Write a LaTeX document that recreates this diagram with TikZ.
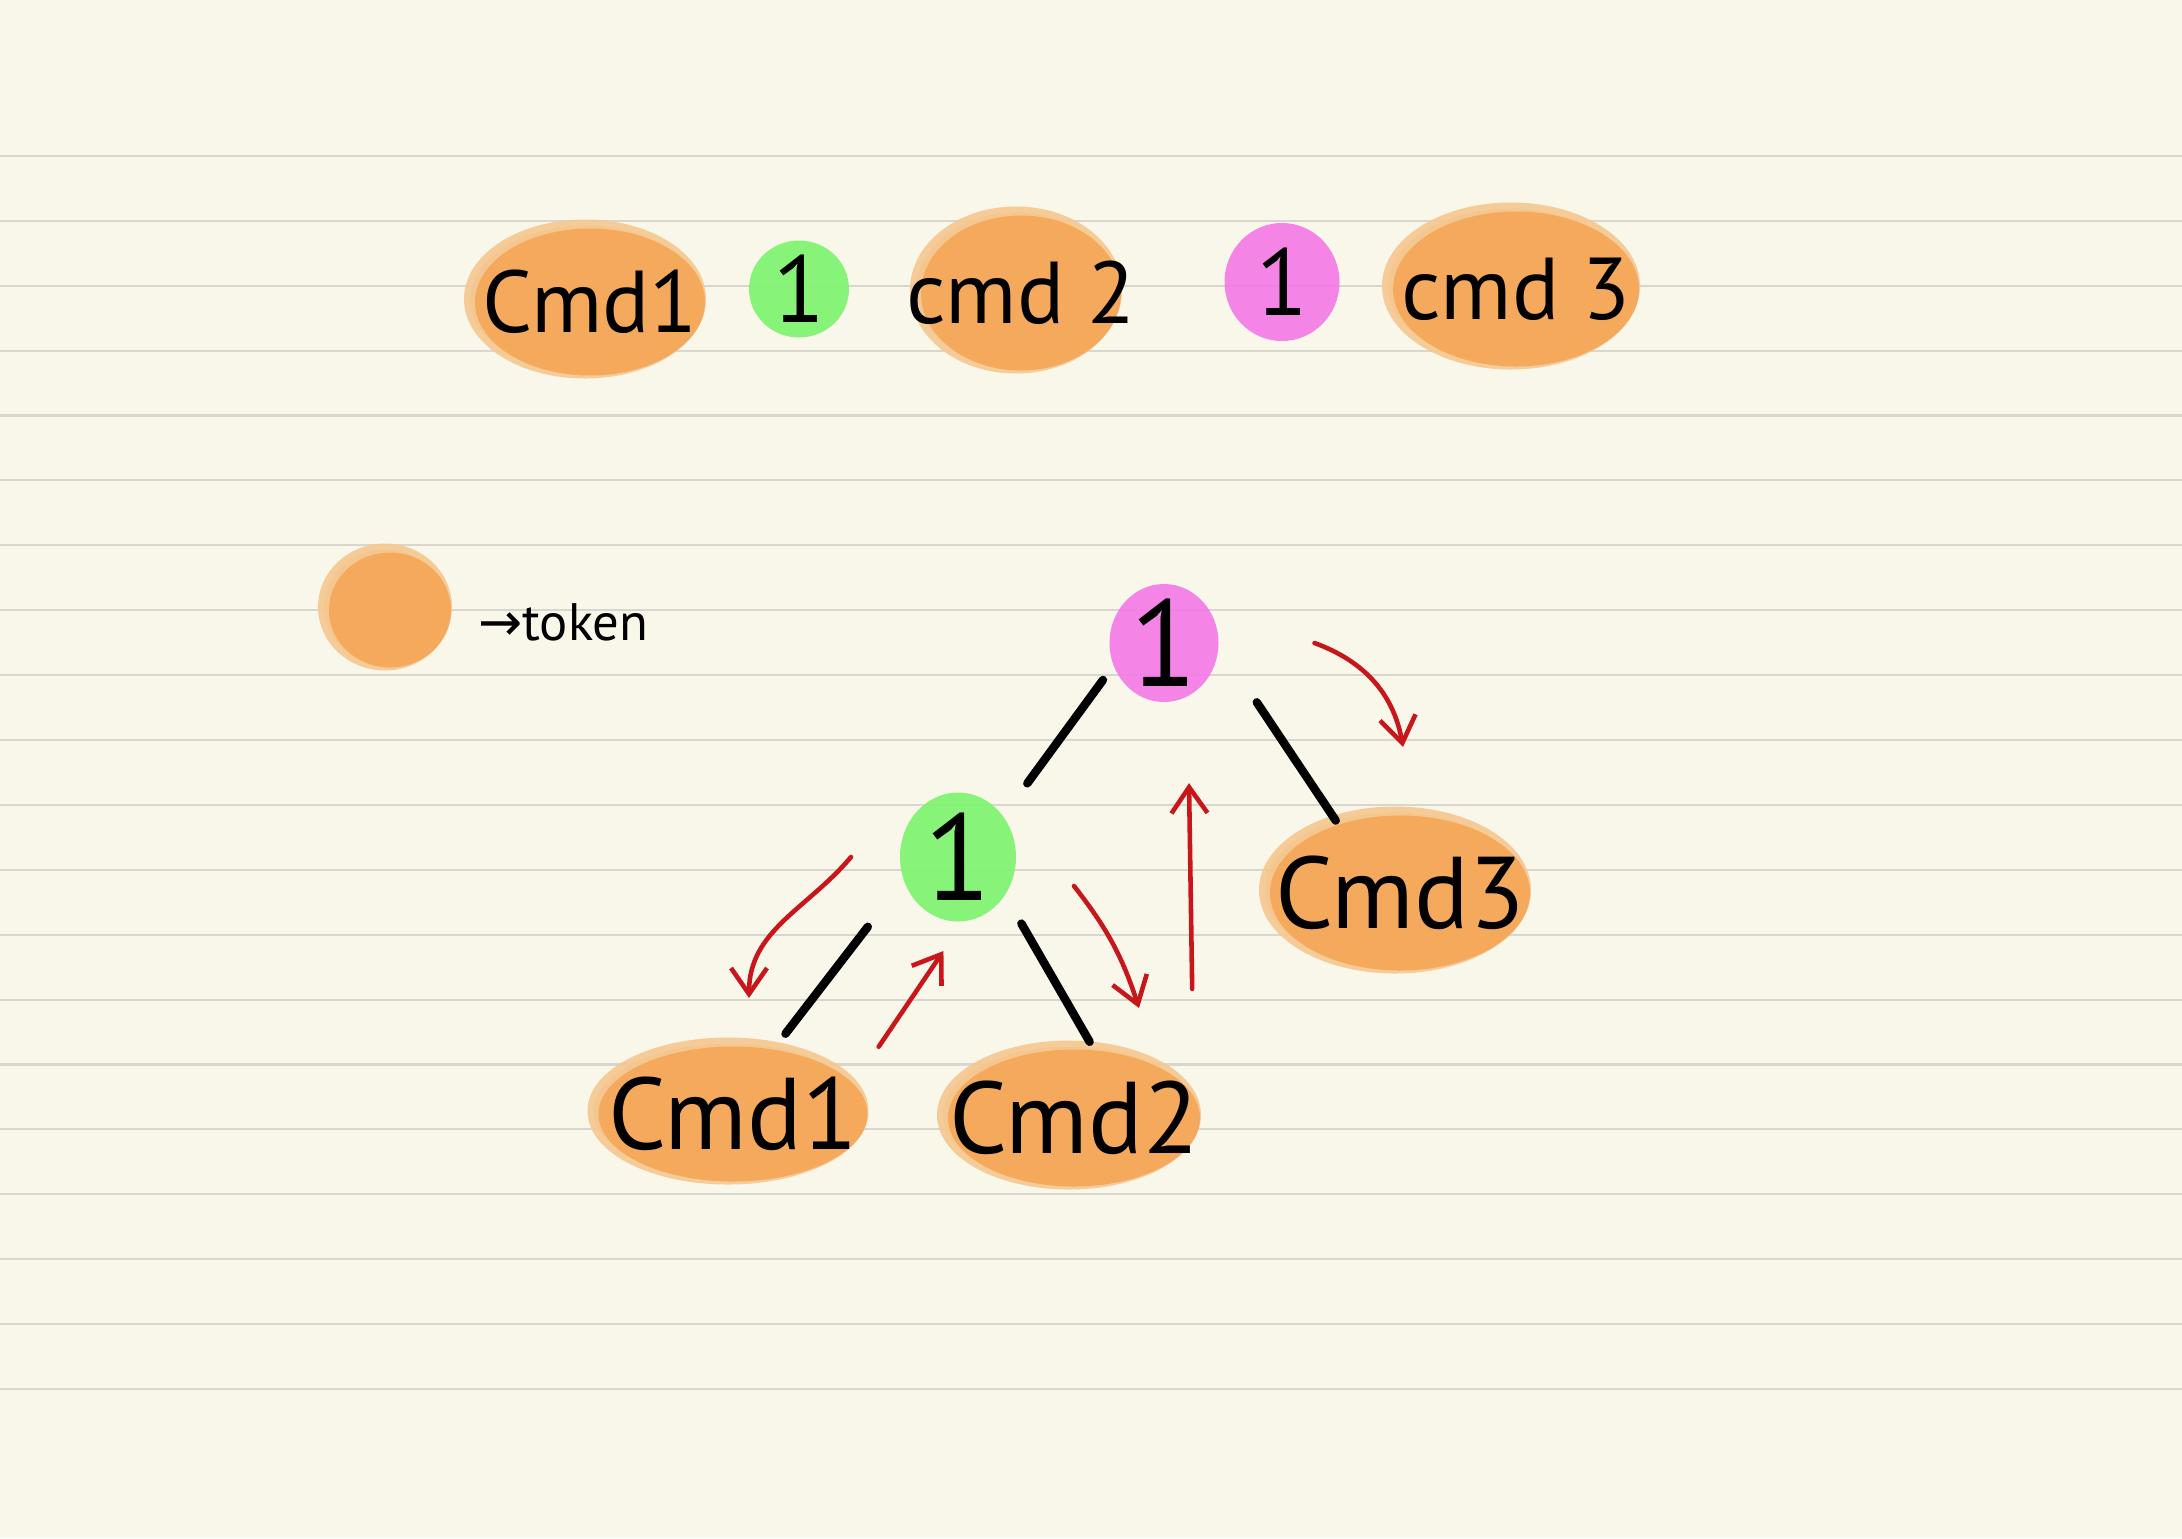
\documentclass[tikz,border=0pt]{standalone}
\usepackage{fontspec}
\setmainfont{PT Sans}
\newfontfamily\arrowfont{DejaVu Sans}
\usetikzlibrary{arrows.meta,shapes.geometric}
\definecolor{PaperCream}{HTML}{F9F7EA}
\definecolor{PaperRule}{HTML}{D8D6CE}
\definecolor{TokenOrange}{HTML}{F5A656}
\definecolor{TokenHalo}{HTML}{F5C790}
\definecolor{OpGreen}{HTML}{7EF470}
\definecolor{OpPink}{HTML}{F47BE6}
\definecolor{TrailRed}{HTML}{C8161B}

\begin{document}
\begin{tikzpicture}[
    token/.style={ellipse,fill=TokenOrange,fill opacity=0.9,inner sep=0pt,outer sep=0pt,
      preaction={fill=TokenHalo,draw=TokenHalo,fill opacity=0.9,draw opacity=0.9,line width=0.12cm,
        transform canvas={shift={(-0.05cm,0.03cm)}}}},
    opnode/.style={ellipse,fill opacity=0.92,inner sep=0pt,outer sep=0pt},
    handtext/.style={font=\fontsize{25}{30}\selectfont,text=black,text opacity=1},
    treetext/.style={font=\fontsize{29}{34}\selectfont,text=black,text opacity=1},
    smallone/.style={font=\fontsize{27}{32}\selectfont,text=black,text opacity=1},
    bigone/.style={font=\fontsize{35}{40}\selectfont,text=black,text opacity=1},
    edge/.style={line width=2.4pt,line cap=round,black},
    trail/.style={line width=1.3pt,line cap=round,TrailRed,-{Straight Barb[length=2.6mm,width=3.6mm]}},
    ruled/.style={PaperRule,line width=0.6pt}
  ]
  \fill[PaperCream] (0,0) rectangle (21.82,-15.38);
  \useasboundingbox (0,0) rectangle (21.82,-15.38);
  \foreach \k in {0,...,19}
    \draw[ruled] (0,{-1.559-0.649*\k}) -- (21.82,{-1.559-0.649*\k});

  % the command line, token by token
  \node[token,minimum width=2.3cm,minimum height=1.47cm,label={[handtext]center:Cmd1}] (incmd1) at (5.9,-3.02) {};
  \node[opnode,fill=OpGreen,minimum width=1.0cm,minimum height=0.97cm,label={[smallone]center:1}] (inop1) at (7.99,-2.89) {};
  \node[token,minimum width=2.0cm,minimum height=1.55cm,label={[handtext]center:cmd 2}] (incmd2) at (10.21,-2.93) {};
  \node[opnode,fill=OpPink,minimum width=1.15cm,minimum height=1.18cm,label={[smallone]center:1}] (inop2) at (12.82,-2.82) {};
  \node[token,minimum width=2.46cm,minimum height=1.55cm,label={[handtext]center:cmd 3}] (incmd3) at (15.16,-2.89) {};

  % key
  \node[token,minimum width=1.22cm,minimum height=1.15cm] (keyblob) at (3.9,-6.1) {};
  \node[anchor=west,font=\fontsize{15}{18}\selectfont] (keytext) at (4.66,-6.22) {{\arrowfont →}token};

  % the tree
  \node[opnode,fill=OpPink,minimum width=1.09cm,minimum height=1.18cm,label={[bigone]center:1}] (root) at (11.64,-6.43) {};
  \node[opnode,fill=OpGreen,minimum width=1.16cm,minimum height=1.29cm,label={[bigone]center:1}] (mid) at (9.58,-8.57) {};
  \node[token,minimum width=2.6cm,minimum height=1.55cm,label={[treetext]center:Cmd3}] (leaf3) at (14.0,-8.93) {};
  \node[token,minimum width=2.69cm,minimum height=1.35cm,label={[treetext]center:Cmd1}] (leaf1) at (7.33,-11.14) {};
  \node[token,minimum width=2.52cm,minimum height=1.37cm,label={[treetext]center:Cmd2}] (leaf2) at (10.74,-11.18) {};

  \draw[edge,shorten <=0.18cm,shorten >=0.41cm] (root.204) -- (mid.42);
  \draw[edge,shorten <=0.69cm,shorten >=0.05cm] (root.358) -- (leaf3.132);
  \draw[edge,shorten <=0.59cm,shorten >=0.2cm] (mid.203) -- (leaf1.58);
  \draw[edge,shorten <=0.33cm,shorten >=0.1cm] (mid.321) -- (leaf2.73);

  % walk order
  \draw[trail] ([xshift=-0.49cm]mid.west) to[out=230,in=90] ([xshift=0.16cm,yshift=0.485cm]leaf1.north);
  \draw[trail,shorten <=0.45cm,shorten >=0.36cm] (leaf1.14) -- (mid.275);
  \draw[trail] ([xshift=0.58cm,yshift=-0.29cm]mid.east) to[bend left=10] ([xshift=0.65cm,yshift=0.415cm]leaf2.north);
  \draw[trail,shorten <=1.08cm,shorten >=0.87cm] (leaf2.10) -- (root.294);
  \draw[trail] ([xshift=0.96cm]root.east) to[out=-20,in=100] ([xshift=0.03cm,yshift=0.685cm]leaf3.north);
\end{tikzpicture}
\end{document}
